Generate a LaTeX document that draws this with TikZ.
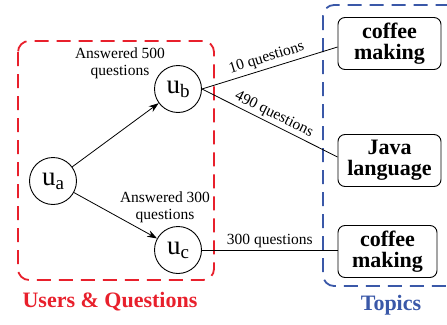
\documentclass[tikz,border=0pt]{standalone}
\usepackage{fontspec}
\setmainfont{Liberation Serif}
\usetikzlibrary{arrows.meta}
\definecolor{grpred}{RGB}{232,32,44}
\definecolor{grpblue}{RGB}{58,88,168}
\newcommand{\usr}[1]{{\fontsize{27}{27}\selectfont u}\raisebox{-4pt}{\fontsize{19}{19}\selectfont #1}}
\tikzset{
  user/.style={circle, draw, line width=0.9pt, minimum size=47pt, inner sep=0pt},
  topic/.style={draw, rounded corners=7pt, line width=0.9pt, minimum width=103pt,
    minimum height=52pt, inner sep=0pt, align=center,
    font=\fontsize{22}{22}\selectfont\bfseries},
  note/.style={font=\fontsize{15.5}{17}\selectfont, align=center, inner sep=1pt},
  link/.style={line width=0.8pt},
  flow/.style={line width=0.8pt, -{Stealth[length=10pt,width=7pt]}},
  grpbox/.style={line width=1.8pt, dash pattern=on 14pt off 8pt, rounded corners=11pt},
  grptitle/.style={font=\fontsize{22}{22}\selectfont\bfseries, inner sep=0pt}
}
\begin{document}
\begin{tikzpicture}[x=1pt,y=-1pt]
\useasboundingbox (0,0) rectangle (447,324);
\begin{scope}
\clip (0,0) rectangle (447,324);
% group frames
\draw[grpbox, grpred] (18,41) rectangle (214,280);
\draw[grpbox, grpblue] (323,5) rectangle (470,286);
\end{scope}
% users
\node[user] (ua) at (53,181) {\usr{a}};
\node[user] (ub) at (178,89) {\usr{b}};
\node[user] (uc) at (178,250) {\usr{c}};
% topics
\node[topic] (t1) at (389.5,43.5) {coffee\\[-1pt]making};
\node[topic] (t2) at (389.5,160.5) {Java\\[-1pt]language};
\node[topic, minimum width=99pt] (t3) at (387.5,251.5) {coffee\\[-1pt]making};
% answer flows
\draw[flow] (ua) -- (ub);
\draw[flow] (ua) -- (uc);
\node[note] (n500) at (120,63) {Answered 500\\questions};
\node[note] (n300) at (165,207) {Answered 300\\questions};
% question counts per topic
\draw[link] (ub.east) -- node[note, midway, above=2pt, sloped] {10 questions} (t1.west |- 0,47);
\draw[link] (ub.east) -- node[note, midway, above=1pt, sloped] {490 questions} (t2.west |- 0,157);
\draw[link] (uc.east) -- node[note, midway, above=1pt] {300 questions} (t3.west |- uc.east);
% group titles
\node[grptitle, text=grpred] (gu) at (110,302) {Users \& Questions};
\node[grptitle, text=grpblue] (gt) at (391,305) {Topics};
\end{tikzpicture}
\end{document}
